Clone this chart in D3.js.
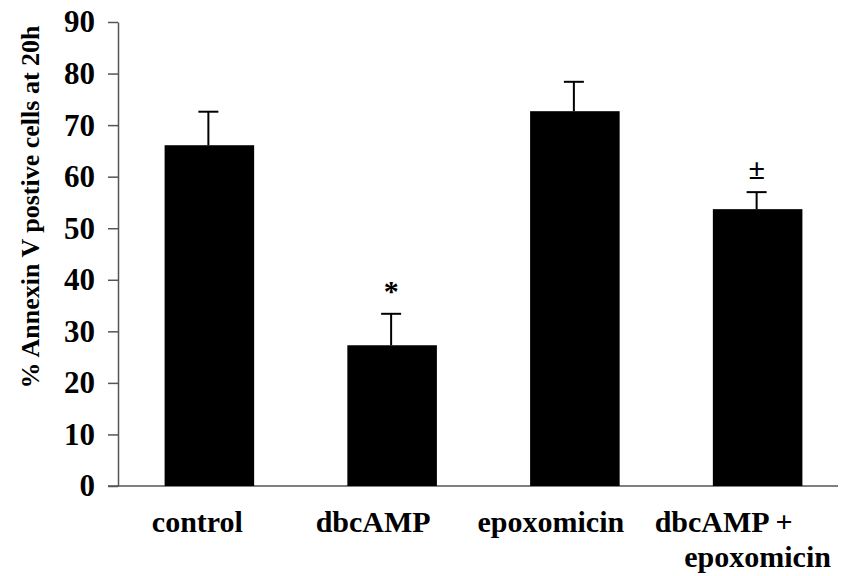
<!DOCTYPE html>
<html>
<head>
<meta charset="utf-8">
<script src="https://cdn.jsdelivr.net/npm/d3@7"></script>
<style>
  body { margin: 0; background: #fff; }
  text { font-family: "Liberation Serif", "Times New Roman", serif; font-weight: bold; fill: #000; }
</style>
</head>
<body>
<div id="chart"></div>
<script>
// Data
const categories = ['control', 'dbcAMP', 'epoxomicin', 'dbcAMP + epoxomicin'];
const labelLines = [['control'], ['dbcAMP'], ['epoxomicin'], ['dbcAMP +', 'epoxomicin']];
const means = [66.1, 27.3, 72.7, 53.7];
const errors = [6.5, 6.1, 5.7, 3.3];
const markers = ['', '*', '', '±'];
const yTicks = [0, 10, 20, 30, 40, 50, 60, 70, 80, 90];

const width = 841, height = 576;
const margin = { top: 22, right: 0, bottom: 90, left: 118 };

const svg = d3.select('#chart')
  .append('svg')
  .attr('width', width)
  .attr('height', height);

// Scales
const x = d3.scaleBand()
  .domain(categories)
  .range([margin.left, 849])
  .paddingInner(0.51)
  .paddingOuter(0.255);

const y = d3.scaleLinear()
  .domain([0, 90])
  .range([height - margin.bottom, margin.top]);

// Y axis
const yAxis = svg.append('g')
  .attr('transform', `translate(${margin.left},0)`)
  .call(d3.axisLeft(y).tickValues(yTicks).tickSize(10).tickPadding(13).tickSizeOuter(0));
yAxis.select('.domain').attr('stroke', '#555').attr('stroke-width', 1.5);
yAxis.selectAll('.tick line').attr('stroke', '#555').attr('stroke-width', 1.5);
yAxis.selectAll('.tick text')
  .attr('font-size', 31)
  .attr('font-family', '"Liberation Serif", serif')
  .attr('font-weight', 'bold')
  .attr('fill', '#000');

// Baseline
svg.append('line')
  .attr('x1', margin.left - 10)
  .attr('x2', 838)
  .attr('y1', y(0))
  .attr('y2', y(0))
  .attr('stroke', '#555')
  .attr('stroke-width', 1.5);

// Bars
svg.selectAll('.bar')
  .data(categories)
  .enter()
  .append('rect')
  .attr('class', 'bar')
  .attr('x', d => x(d))
  .attr('width', x.bandwidth())
  .attr('y', (d, i) => y(means[i]))
  .attr('height', (d, i) => y(0) - y(means[i]))
  .attr('fill', '#000');

// Error bars (upper only)
const err = svg.selectAll('.err')
  .data(categories)
  .enter()
  .append('g')
  .attr('class', 'err')
  .attr('transform', d => `translate(${x(d) + x.bandwidth() / 2 - 1},0)`);

err.append('line')
  .attr('x1', 0).attr('x2', 0)
  .attr('y1', (d, i) => y(means[i]))
  .attr('y2', (d, i) => y(means[i] + errors[i]))
  .attr('stroke', '#000')
  .attr('stroke-width', 2);

err.append('line')
  .attr('x1', -10).attr('x2', 10)
  .attr('y1', (d, i) => y(means[i] + errors[i]))
  .attr('y2', (d, i) => y(means[i] + errors[i]))
  .attr('stroke', '#000')
  .attr('stroke-width', 2);

// Significance markers
err.append('text')
  .attr('text-anchor', 'middle')
  .attr('y', (d, i) => y(means[i] + errors[i]) - 13)
  .attr('font-size', 30)
  .text((d, i) => markers[i]);

// Category labels
const labelShift = [-12, -19, -24, -34];
categories.forEach((c, i) => {
  const t = svg.append('text')
    .attr('text-anchor', 'middle')
    .attr('font-size', 30);
  labelLines[i].forEach((line, j) => {
    t.append('tspan')
      .attr('x', x(c) + x.bandwidth() / 2 + (j === 0 ? labelShift[i] : 0))
      .attr('y', 532 + j * 35)
      .text(line);
  });
});

// Y axis title
svg.append('text')
  .attr('transform', 'translate(39,207) rotate(-90)')
  .attr('text-anchor', 'middle')
  .attr('font-size', 26)
  .text('% Annexin V postive cells at 20h');
</script>
</body>
</html>
